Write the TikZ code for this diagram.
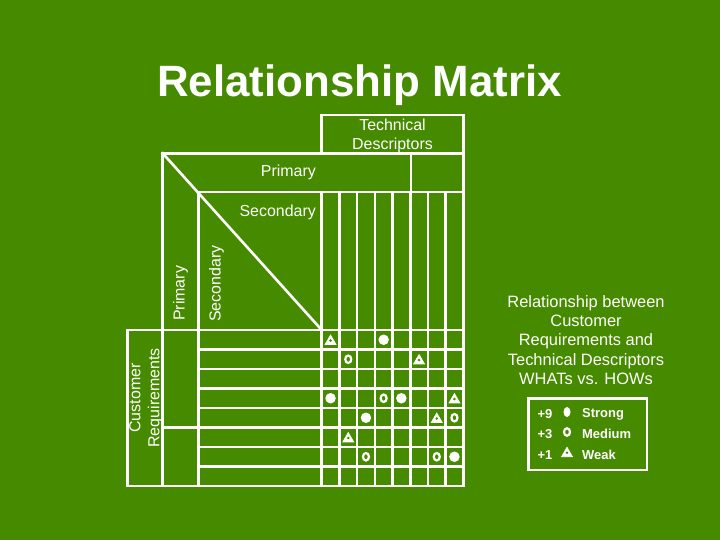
\documentclass[tikz,border=0pt]{standalone}
\usepackage{tikz}
\usepackage{xcolor}
\usepackage{fontspec}
\setmainfont{Liberation Sans}
\usetikzlibrary{shapes.geometric}

\definecolor{slidegreen}{RGB}{70,138,0}

\begin{document}
\begin{tikzpicture}[x=1bp, y=-1bp,
    grid/.style={draw=white, line width=2.6bp, line cap=rect},
    label/.style={text=white, inner sep=0pt, font=\fontsize{16}{19}\selectfont},
    strongdot/.style={circle, fill=white, inner sep=0pt, minimum size=10.5bp},
    mediumring/.style={ellipse, draw=white, line width=2.2bp, inner sep=0pt, minimum width=6bp, minimum height=7.5bp},
    weaktri/.style={regular polygon, regular polygon sides=3, fill=white, draw=white, line width=0.8bp,
        inner sep=0pt, minimum size=12.5bp, yshift=-1.6bp,
        path picture={\fill[slidegreen] ([yshift=-0.8bp]path picture bounding box.center) circle (1.4bp);}}]

    % Slide background
    \fill[slidegreen] (0,0) rectangle (720,540);
    \useasboundingbox (0,0) rectangle (720,540);

    % Title
    \node[text=white, inner sep=0pt, anchor=base, font=\fontsize{44}{48}\bfseries] (title) at (359.5,97) {Relationship Matrix};

    % Technical descriptors box
    \draw[grid] (321.7,115) rectangle (463.3,153.3);
    \node[label, align=center] (techdesc) at (392.5,136.3) {Technical\\Descriptors};

    % Primary and secondary rows
    \draw[grid] (162.7,153.3) -- (321.7,153.3);
    \draw[grid] (411,153.3) -- (411,192);
    \draw[grid] (198.3,192) -- (463.3,192);
    \draw[grid] (463.3,153.3) -- (463.3,486);
    \node[label, anchor=east] (rowprim) at (316,172.5) {Primary};
    \node[label, anchor=east] (rowsec) at (316,212) {Secondary};

    % Corner diagonal
    \draw[grid] (162.7,153.3) -- (321.7,330);

    % Customer requirements columns
    \draw[grid] (127.3,330) -- (463.3,330);
    \draw[grid] (127.3,330) -- (127.3,486) -- (463.3,486);
    \draw[grid] (162.7,153.3) -- (162.7,486);
    \draw[grid] (198.3,192) -- (198.3,486);
    \draw[grid] (162.7,427.3) -- (198.3,427.3);
    \node[label, rotate=90, anchor=west] (colprim) at (180.5,321) {Primary};
    \node[label, rotate=90, anchor=west] (colsec) at (216.5,322) {Secondary};
    \node[label, rotate=90, align=center] (custreq) at (146,398) {Customer\\Requirements};

    % Relationship cells
    \foreach \i in {0,...,7}
        \draw[grid] (321.7+17.7*\i,192) -- (321.7+17.7*\i,486);
    \foreach \j in {1,...,7}
        \draw[grid] (198.3,330+19.5*\j) -- (463.3,330+19.5*\j);

    % Marks: column/row/kind
    \foreach \c/\r/\k in {1/1/weaktri, 4/1/strongdot,
                          2/2/mediumring, 6/2/weaktri,
                          1/4/strongdot, 4/4/mediumring, 5/4/strongdot, 8/4/weaktri,
                          3/5/strongdot, 7/5/weaktri, 8/5/mediumring,
                          2/6/weaktri,
                          3/7/mediumring, 7/7/mediumring, 8/7/strongdot}
        \node[\k] (m-\c-\r) at (321.7+17.7*\c-8.85,330+19.5*\r-9.75) {};

    % Explanation
    \node[label, align=center, font=\fontsize{16.5}{19.2}\selectfont] (explain) at (586,340)
        {Relationship between\\Customer\\Requirements and\\Technical Descriptors\\WHATs vs. HOWs};

    % Legend
    \draw[draw=white, line width=2.4bp] (528.3,398.3) rectangle (646.7,470);
    \node[label, font=\fontsize{13}{15}\bfseries] (lg9) at (545,414) {+9};
    \node[label, font=\fontsize{13}{15}\bfseries] (lg3) at (545,434) {+3};
    \node[label, font=\fontsize{13}{15}\bfseries] (lg1) at (545,455) {+1};
    \node[ellipse, fill=white, inner sep=0pt, minimum width=7bp, minimum height=10bp] (lgs) at (567,412) {};
    \node[mediumring] (lgm) at (567,432) {};
    \node[weaktri] (lgw) at (567,452) {};
    \node[label, anchor=west, font=\fontsize{13}{15}\bfseries] (lgstrong) at (582,414) {Strong};
    \node[label, anchor=west, font=\fontsize{13}{15}\bfseries] (lgmedium) at (582,434) {Medium};
    \node[label, anchor=west, font=\fontsize{13}{15}\bfseries] (lgweak) at (582,455) {Weak};
\end{tikzpicture}
\end{document}
